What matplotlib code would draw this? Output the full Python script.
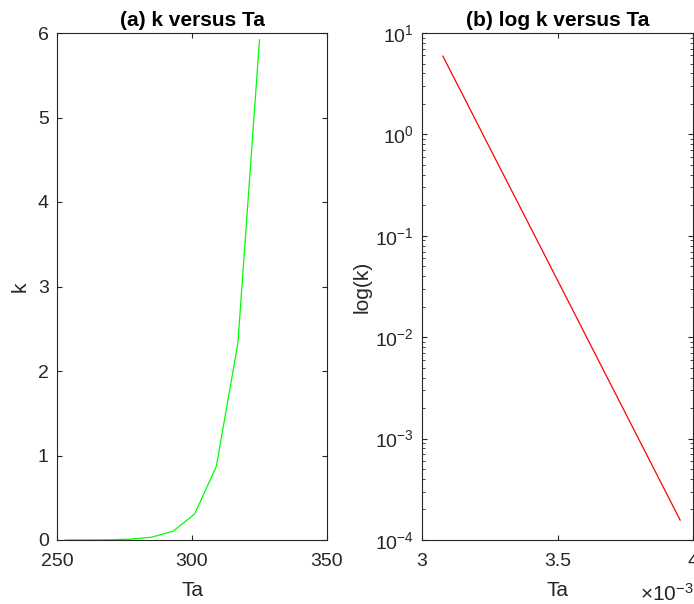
import matplotlib
matplotlib.use("Agg")
import matplotlib.pyplot as plt
from matplotlib.ticker import FuncFormatter, LogLocator, NullFormatter

plt.rcParams["font.family"] = ["Liberation Sans", "DejaVu Sans"]
plt.rcParams["mathtext.fontset"] = "custom"
plt.rcParams["mathtext.rm"] = "Liberation Sans"
plt.rcParams["mathtext.it"] = "Liberation Sans:italic"
plt.rcParams["mathtext.bf"] = "Liberation Sans:bold"

# temperatures and rate constants
ta = [253, 261, 269, 277, 285, 293, 301, 309, 317, 325]
k = [0.000157, 0.000675, 0.00266, 0.00968, 0.0328, 0.104, 0.309, 0.870, 2.33, 5.92]
inv_ta = [0.0039526, 0.0038314, 0.0037175, 0.0036101, 0.0035088,
          0.0034130, 0.0033223, 0.0032362, 0.0031546, 0.0030769]

AX_COLOR = "#262626"
W, H = 694, 604

fig = plt.figure(figsize=(W / 100, H / 100), dpi=100)
ax1 = fig.add_axes([57 / W, 1 - 540 / H, (327 - 57) / W, (540 - 33) / H])
ax2 = fig.add_axes([422 / W, 1 - 540 / H, (693 - 422) / W, (540 - 33) / H])

for ax in (ax1, ax2):
    for s in ax.spines.values():
        s.set_color(AX_COLOR)
        s.set_linewidth(0.8)
    ax.tick_params(which="both", direction="in", top=True, right=True,
                   colors=AX_COLOR, labelsize=14, labelcolor=AX_COLOR)
    ax.tick_params(which="major", length=3.5, width=0.8)
    ax.tick_params(which="minor", length=2.2, width=0.6)
    ax.tick_params(axis="x", pad=9.5)
    ax.tick_params(axis="y", pad=6)

# (a) linear
ax1.plot(ta, k, color="#00ff00", lw=0.9)
ax1.set_xlim(250, 350)
ax1.set_ylim(0, 6)
ax1.set_xticks([250, 300, 350])
ax1.set_yticks([0, 1, 2, 3, 4, 5, 6])
ax1.set_xlabel("Ta", fontsize=15, color=AX_COLOR, labelpad=8)
ax1.set_ylabel("k", fontsize=15, color=AX_COLOR, labelpad=6)
ax1.set_title("(a) k versus Ta", fontsize=15, fontweight="bold", pad=5)

# (b) semilog
ax2.plot(inv_ta, k, color="#ff0000", lw=0.9)
ax2.set_yscale("log")
ax2.set_xlim(0.003, 0.004)
ax2.set_ylim(1e-4, 1e1)
ax2.set_xticks([0.003, 0.0035, 0.004])
ax2.xaxis.set_major_formatter(FuncFormatter(lambda v, p: f"{v * 1e3:g}"))
ax2.yaxis.set_major_locator(LogLocator(base=10, numticks=10))
ax2.yaxis.set_minor_locator(LogLocator(base=10, subs=range(2, 10), numticks=10))
ax2.yaxis.set_minor_formatter(NullFormatter())
ax2.set_xlabel("Ta", fontsize=15, color=AX_COLOR, labelpad=8)
ax2.set_ylabel("log(k)", fontsize=15, color=AX_COLOR, labelpad=2)
ax2.set_title("(b) log k versus Ta", fontsize=15, fontweight="bold", pad=5)
fig.text(1.0, 1 - 601 / H, r"$\times10^{-3}$", fontsize=15, color=AX_COLOR,
         ha="right", va="baseline")

fig.savefig("out.png", dpi=100)
